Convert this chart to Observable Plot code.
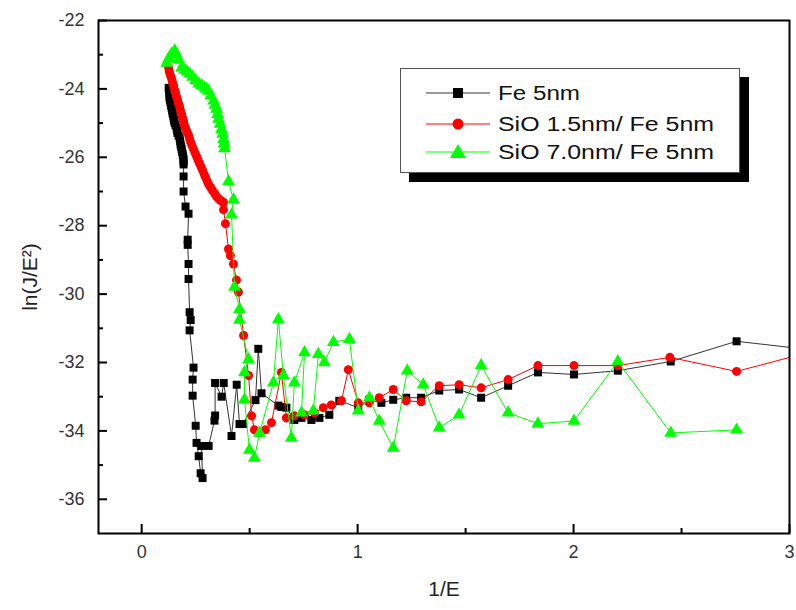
<!DOCTYPE html>
<html><head><meta charset="utf-8">
<script src="https://cdn.jsdelivr.net/npm/d3@7"></script>
<script src="https://cdn.jsdelivr.net/npm/@observablehq/plot@0.6"></script>
<style>
body{margin:0;background:#fff;}
#wrap{position:relative;width:796px;height:610px;font-family:"Liberation Sans",Arial,sans-serif;}
#wrap svg g[aria-label="y-axis label"] text,#wrap svg g[aria-label="x-axis label"] text{font-size:21px;fill:#222;}
#legend{position:absolute;left:400px;top:68px;width:338px;height:103px;border:1px solid #555;background:#fff;box-shadow:9px 9px 0 #000;}
</style></head><body><div id="wrap"></div>
<script>
const seriesNames = ["Fe 5nm", "SiO 1.5nm/ Fe 5nm", "SiO 7.0nm/ Fe 5nm"];
const seriesColors = ["#000000", "#ff0000", "#00ff00"];
const lineColors = ["#333333", "#ff0000", "#00ff00"];
const seriesSymbols = ["square", "circle", "triangle"];

const feX = [0.125,0.127,0.129,0.129,0.129,0.131,0.134,0.136,0.139,0.141,0.143,0.146,0.148,0.150,0.153,0.157,0.162,0.164,0.166,0.171,0.176,0.178,0.180,0.183,0.185,0.187,0.190,0.192,0.194,0.194,0.194,0.194,0.194,0.203,0.217,0.213,0.213,0.217,0.217,0.222,0.227,0.222,0.240,0.236,0.236,0.250,0.254,0.264,0.273,0.282,0.277,0.310,0.337,0.340,0.340,0.370,0.380,0.416,0.440,0.453,0.470,0.527,0.540,0.555,0.633,0.647,0.670,0.707,0.740,0.786,0.823,0.869,0.915,1.003,1.054,1.110,1.165,1.225,1.294,1.378,1.470,1.572,1.697,1.835,2.002,2.205,2.450,2.755,3.200];
const feY = [-23.97,-24.05,-24.12,-24.19,-24.26,-24.34,-24.41,-24.49,-24.56,-24.63,-24.71,-24.78,-24.85,-24.93,-25.00,-25.07,-25.15,-25.22,-25.29,-25.37,-25.44,-25.53,-25.62,-25.69,-25.76,-25.84,-25.91,-25.98,-26.06,-26.13,-26.21,-26.56,-27.00,-27.44,-27.65,-28.41,-28.56,-29.12,-29.56,-30.53,-30.76,-31.06,-32.15,-32.50,-32.97,-33.85,-34.35,-34.74,-35.24,-35.38,-34.44,-34.44,-33.70,-33.55,-32.60,-33.00,-32.60,-34.15,-32.65,-33.80,-33.80,-33.10,-31.60,-32.90,-33.26,-33.30,-33.32,-33.68,-33.62,-33.68,-33.62,-33.53,-33.12,-33.32,-33.09,-33.18,-33.09,-33.03,-33.03,-32.82,-32.79,-33.03,-32.68,-32.29,-32.35,-32.24,-31.97,-31.38,-31.70];

const sio15X = [0.125,0.127,0.129,0.134,0.139,0.143,0.148,0.152,0.157,0.161,0.166,0.171,0.176,0.180,0.185,0.189,0.194,0.198,0.203,0.210,0.217,0.222,0.227,0.233,0.240,0.247,0.254,0.261,0.268,0.275,0.282,0.289,0.296,0.303,0.310,0.319,0.328,0.338,0.347,0.356,0.365,0.372,0.379,0.379,0.388,0.402,0.411,0.425,0.439,0.448,0.472,0.495,0.509,0.522,0.546,0.573,0.601,0.647,0.670,0.707,0.754,0.800,0.841,0.878,0.925,0.957,1.003,1.054,1.100,1.165,1.225,1.294,1.378,1.470,1.572,1.697,1.835,2.002,2.205,2.446,2.755,3.200];
const sio15Y = [-23.38,-23.45,-23.53,-23.62,-23.71,-23.81,-23.91,-24.02,-24.12,-24.22,-24.32,-24.43,-24.53,-24.64,-24.74,-24.84,-24.94,-25.05,-25.15,-25.25,-25.35,-25.46,-25.56,-25.66,-25.76,-25.87,-25.97,-26.08,-26.18,-26.28,-26.38,-26.49,-26.59,-26.69,-26.79,-26.88,-26.97,-27.06,-27.15,-27.21,-27.26,-27.29,-27.32,-27.53,-27.94,-28.68,-28.88,-29.12,-29.59,-29.94,-31.21,-32.38,-33.56,-33.97,-34.06,-33.97,-33.76,-32.29,-33.62,-33.56,-33.53,-33.47,-33.32,-33.24,-33.12,-32.21,-33.18,-33.18,-33.03,-32.79,-33.12,-33.15,-32.68,-32.65,-32.74,-32.50,-32.09,-32.09,-32.09,-31.85,-32.26,-31.52];

const sio70X = [0.116,0.125,0.138,0.153,0.162,0.171,0.185,0.199,0.210,0.222,0.236,0.250,0.264,0.278,0.292,0.300,0.310,0.320,0.333,0.340,0.347,0.352,0.356,0.363,0.370,0.375,0.379,0.382,0.384,0.402,0.425,0.416,0.430,0.453,0.453,0.495,0.476,0.476,0.499,0.522,0.546,0.610,0.633,0.656,0.693,0.707,0.754,0.740,0.795,0.818,0.846,0.888,0.962,1.003,1.054,1.100,1.165,1.230,1.304,1.378,1.470,1.572,1.697,1.835,2.002,2.205,2.450,2.755];
const sio70Y = [-23.24,-23.12,-22.98,-22.88,-23.00,-23.15,-23.38,-23.45,-23.50,-23.56,-23.65,-23.75,-23.85,-23.90,-23.97,-24.00,-24.06,-24.20,-24.35,-24.47,-24.59,-24.74,-24.88,-25.03,-25.18,-25.32,-25.47,-25.60,-25.74,-26.71,-27.24,-27.68,-29.79,-30.44,-30.76,-31.91,-32.29,-33.09,-34.56,-34.79,-34.06,-32.59,-30.74,-32.38,-34.21,-32.59,-31.71,-33.47,-33.41,-31.76,-32.00,-31.41,-31.32,-33.41,-33.03,-33.71,-34.50,-32.24,-32.65,-33.91,-33.53,-32.09,-33.47,-33.79,-33.71,-31.97,-34.06,-33.97];

const xMajorTicks = [0, 1, 2, 3];
const xMinorTicks = [0.5, 1.5, 2.5];
const yMajorTicks = [-36, -34, -32, -30, -28, -26, -24, -22];
const yMinorTicks = [-35, -33, -31, -29, -27, -25, -23];

const W = 796, H = 610, ML = 98, MR = 7, MT = 20, MB = 77;
const frameW = W - ML - MR, frameH = H - MT - MB;

const xs = [feX, sio15X, sio70X];
const ys = [feY, sio15Y, sio70Y];
const tables = xs.map((X, i) => X.map((x, j) => ({x, y: ys[i][j], s: seriesNames[i]})));

const marks = [];
tables.forEach((t, i) => {
  marks.push(Plot.line(t, {x: "x", y: "y", stroke: lineColors[i], strokeWidth: 1, clip: true}));
  marks.push(Plot.dot(t, {x: "x", y: "y", symbol: seriesSymbols[i], r: i === 2 ? 4.8 : 4.5, fill: seriesColors[i], stroke: "none", clip: true}));
});

const chart = Plot.plot({
  width: W, height: H,
  marginLeft: ML, marginRight: MR, marginTop: MT, marginBottom: MB,
  x: {domain: [-0.2, 3]},
  y: {domain: [-37, -22]},
  style: {fontFamily: "'Liberation Sans', Arial, sans-serif", fontSize: "18px", color: "#333", background: "#fff"},
  marks: [
    ...marks,
    Plot.frame({stroke: "#000", strokeWidth: 2}),
    Plot.tickX(xMajorTicks, {x: d => d, insetTop: frameH - 9, stroke: "#000", strokeWidth: 2}),
    Plot.tickX(xMinorTicks, {x: d => d, insetTop: frameH - 5, stroke: "#000", strokeWidth: 2}),
    Plot.tickY(yMajorTicks, {y: d => d, insetRight: frameW - 9, stroke: "#000", strokeWidth: 2}),
    Plot.tickY(yMinorTicks, {y: d => d, insetRight: frameW - 5, stroke: "#000", strokeWidth: 2}),
    Plot.axisX({ticks: xMajorTicks, tickSize: 0, tickPadding: 12, tickFormat: d => String(d), label: "1/E", labelArrow: "none", labelAnchor: "center", labelOffset: 62}),
    Plot.axisY({ticks: yMajorTicks, tickSize: 0, tickPadding: 14, tickFormat: d => String(d), label: "ln(J/E²)", labelArrow: "none", labelAnchor: "center", labelOffset: 76})
  ]
});
const wrap = document.getElementById("wrap");
wrap.appendChild(chart);

// legend
const leg = document.createElement("div");
leg.id = "legend";
const ns = "http://www.w3.org/2000/svg";
const lsvg = document.createElementNS(ns, "svg");
lsvg.setAttribute("width", 338); lsvg.setAttribute("height", 103);
const rowsY = [24, 55, 83];
const textLens = [82, 216, 216];
seriesNames.forEach((name, i) => {
  const y = rowsY[i];
  const ln = document.createElementNS(ns, "line");
  ln.setAttribute("x1", 25); ln.setAttribute("x2", 89); ln.setAttribute("y1", y); ln.setAttribute("y2", y);
  ln.setAttribute("stroke", lineColors[i]); ln.setAttribute("stroke-width", 1);
  lsvg.appendChild(ln);
  let m;
  if (seriesSymbols[i] === "square") {
    m = document.createElementNS(ns, "rect");
    m.setAttribute("x", 57 - 5); m.setAttribute("y", y - 5); m.setAttribute("width", 10); m.setAttribute("height", 10);
  } else if (seriesSymbols[i] === "circle") {
    m = document.createElementNS(ns, "circle");
    m.setAttribute("cx", 57); m.setAttribute("cy", y); m.setAttribute("r", 5.5);
  } else {
    m = document.createElementNS(ns, "path");
    m.setAttribute("d", `M57,${y - 8}L65,${y + 6}L49,${y + 6}Z`);
  }
  m.setAttribute("fill", seriesColors[i]);
  lsvg.appendChild(m);
  const tx = document.createElementNS(ns, "text");
  tx.setAttribute("x", 97); tx.setAttribute("y", y + 7);
  tx.setAttribute("font-size", 20);
  tx.setAttribute("font-family", "'Liberation Sans', Arial, sans-serif");
  tx.setAttribute("fill", "#111");
  tx.setAttribute("textLength", textLens[i]);
  tx.setAttribute("lengthAdjust", "spacingAndGlyphs");
  tx.textContent = name;
  lsvg.appendChild(tx);
});
leg.appendChild(lsvg);
wrap.appendChild(leg);
</script>
</body></html>
